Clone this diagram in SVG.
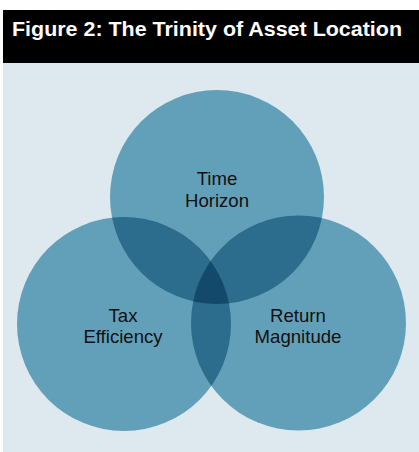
<svg xmlns="http://www.w3.org/2000/svg" width="419" height="452" viewBox="0 0 419 452">
<style>
.lbl{font-family:"Liberation Sans",Arial,sans-serif;font-size:18.6px;fill:#111;text-anchor:middle}
.ttl{font-family:"Liberation Sans",Arial,sans-serif;font-size:19.5px;font-weight:bold;fill:#fff}
.c1{fill:#62a0b9}
.c2{fill:#2c6c8d}
.c3{fill:#134a6b}
</style>
<defs>
<clipPath id="cT"><circle cx="217" cy="197" r="107"/></clipPath>
<clipPath id="cL"><circle cx="124" cy="324" r="107"/></clipPath>
<clipPath id="cR"><circle cx="298.5" cy="323" r="107.5"/></clipPath>
</defs>
<rect x="3" y="63" width="416" height="389" fill="#dee8ef"/>
<rect x="3" y="10" width="416" height="53" fill="#000"/>
<text class="ttl" x="12" y="36" textLength="390" lengthAdjust="spacingAndGlyphs">Figure 2: The Trinity of Asset Location</text>
<g id="time-horizon">
<circle class="c1" cx="217" cy="197" r="107"/>
</g>
<g id="tax-efficiency">
<circle class="c1" cx="124" cy="324" r="107"/>
</g>
<g id="return-magnitude">
<circle class="c1" cx="298.5" cy="323" r="107.5"/>
</g>
<g id="overlaps">
<circle class="c2" cx="124" cy="324" r="107" clip-path="url(#cT)"/>
<circle class="c2" cx="298.5" cy="323" r="107.5" clip-path="url(#cT)"/>
<circle class="c2" cx="298.5" cy="323" r="107.5" clip-path="url(#cL)"/>
<g clip-path="url(#cT)"><circle class="c3" cx="298.5" cy="323" r="107.5" clip-path="url(#cL)"/></g>
</g>
<g id="labels">
<text class="lbl" x="217" y="185">Time</text>
<text class="lbl" x="217" y="207">Horizon</text>
<text class="lbl" x="123" y="322">Tax</text>
<text class="lbl" x="123" y="343">Efficiency</text>
<text class="lbl" x="298" y="322">Return</text>
<text class="lbl" x="298" y="343">Magnitude</text>
</g>
<g id="connectors"/>
</svg>
